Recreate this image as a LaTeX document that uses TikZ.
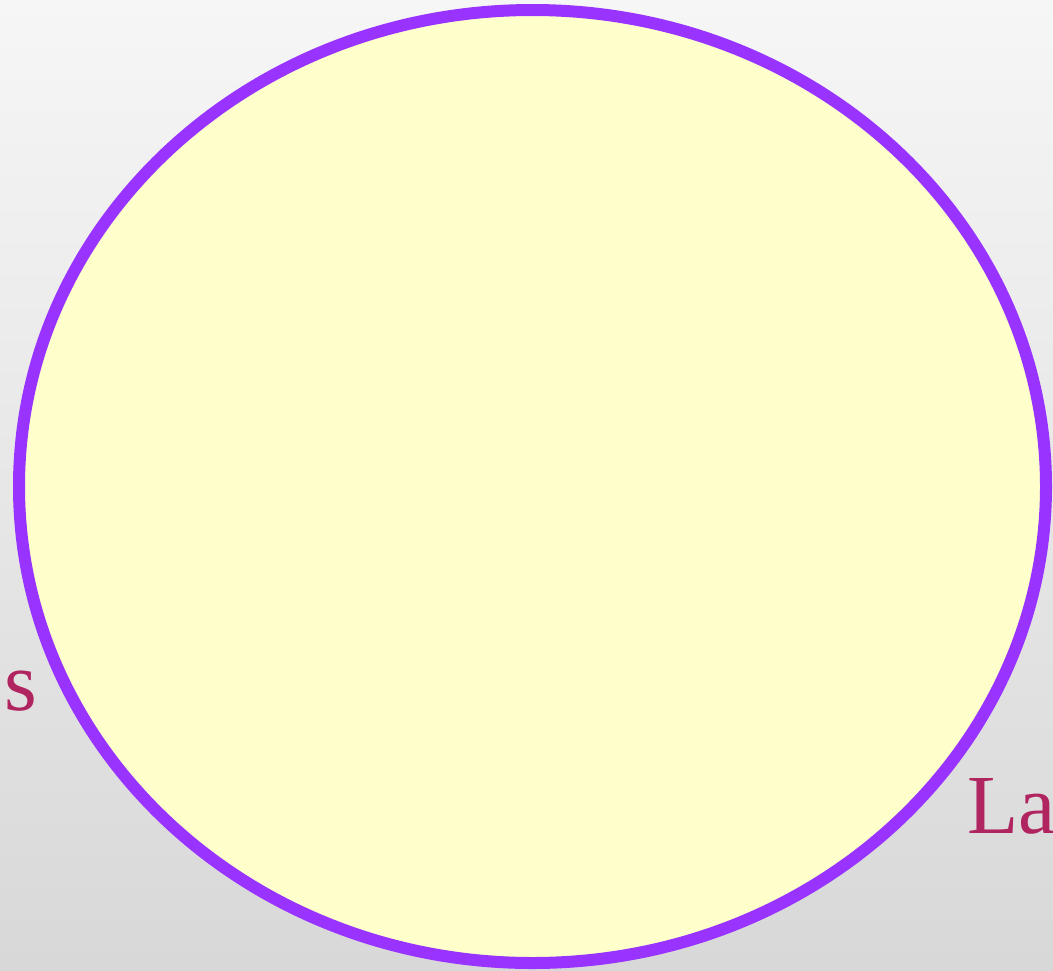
\documentclass[tikz,border=0pt]{standalone}
\usepackage{fontspec}
\setmainfont{Liberation Serif}
\definecolor{ringpurple}{HTML}{9933FF}
\definecolor{ringfill}{HTML}{FFFFCC}
\definecolor{labelred}{HTML}{B0245F}
\definecolor{bgtop}{HTML}{F6F6F6}
\definecolor{bgbot}{HTML}{D8D8D8}
\begin{document}
\begin{tikzpicture}[x=1pt,y=1pt,
  lbl/.style={inner sep=0pt, anchor=base west, text=labelred, font=\fontsize{84}{84}\selectfont}]
\useasboundingbox (0,0) rectangle (1053,-970);
\clip (0,0) rectangle (1053,-970);
\shade[top color=bgtop, bottom color=bgbot] (0,0) rectangle (1053,-970);
\node[lbl] (s) at (4,-710) {s};
\node[lbl] (la) at (967,-833) {La};
\draw[ringpurple, line width=12pt, fill=ringfill] (532.5,-486.5) ellipse [x radius=513.5, y radius=476.5];
\end{tikzpicture}
\end{document}
